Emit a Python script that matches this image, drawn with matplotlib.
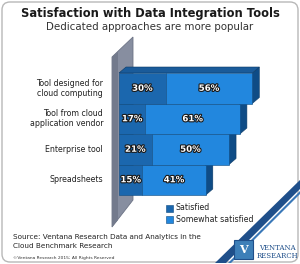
import matplotlib
matplotlib.use("Agg")
import matplotlib.pyplot as plt
import matplotlib.patheffects as pe
from matplotlib.patches import Polygon, FancyBboxPatch, Rectangle

categories = ["Tool designed for\ncloud computing", "Tool from cloud\napplication vendor",
              "Enterprise tool", "Spreadsheets"]
satisfied = [30, 17, 21, 15]
somewhat = [56, 61, 50, 41]
series_names = ["Satisfied", "Somewhat satisfied"]

title = "Satisfaction with Data Integration Tools"
subtitle = "Dedicated approaches are more popular"
source = "Source: Ventana Research Data and Analytics in the\nCloud Benchmark Research"
copyright_txt = "©Ventana Research 2015; All Rights Reserved"

c_sat = "#1b67ae"
c_some = "#2287de"
c_side = "#0f4c86"
c_top = "#1a5b9a"

W, H = 300, 264
fig = plt.figure(figsize=(W / 100, H / 100), dpi=100)
bg = fig.add_axes([0, 0, 1, 1])
bg.set_xlim(0, W)
bg.set_ylim(H, 0)
bg.axis("off")

# rounded frame
bg.add_patch(FancyBboxPatch((2, 2), W - 4, H - 4, boxstyle="round,pad=0,rounding_size=8",
                            fc="white", ec="#b8b8b8", lw=1.0))
# blue swoosh bottom-right
bg.add_patch(Polygon([(300, 180), (300, 189), (226, 263), (215, 263)], closed=True,
                     fc="#1f4f8a", ec="none", zorder=2))
bg.add_patch(Polygon([(300, 191), (300, 194), (231, 263), (228, 263)], closed=True,
                     fc="#3a78b8", ec="none", zorder=2))
# logo
bg.add_patch(Rectangle((234, 240), 19, 19, fc="#3d7fb8", ec="#1f4f8a", lw=0.8, zorder=3))
bg.text(243.5, 249.5, "V", ha="center", va="center", color="white", fontsize=8,
        fontweight="bold", family="DejaVu Serif", zorder=4)
bg.text(277, 248, "VENTANA", ha="center", va="center", color="#1f4f8a", fontsize=5.0,
        family="DejaVu Serif", zorder=4)
bg.text(277, 256, "RESEARCH", ha="center", va="center", color="#1f4f8a", fontsize=5.0,
        family="DejaVu Serif", zorder=4)

# wall
bg.add_patch(Polygon([(112, 57), (133, 37), (133, 200), (112, 227)], closed=True,
                     fc="#878ea0", ec="#6c7385", lw=0.6))
bg.add_patch(Polygon([(112, 57), (118, 52), (118, 220), (112, 227)], closed=True,
                     fc="#737a8c", ec="none"))

# titles
bg.text(150, 14, title, ha="center", va="center", fontsize=8.3, fontweight="bold",
        color="#1a1a1a", family="DejaVu Sans")
bg.text(150, 27, subtitle, ha="center", va="center", fontsize=7.4, color="#333333",
        family="DejaVu Sans")
bg.text(13, 241.5, source, ha="left", va="center", fontsize=5.2, color="#222222",
        linespacing=1.45)
bg.text(13, 258, copyright_txt, ha="left", va="center", fontsize=3.2, color="#333333")

# bar axes: 0% at x=119px, 1.55 px per %
x0_px, px_per = 119, 1.55
ax_w = 100 * px_per
y_top_px, y_bot_px = 73, 195
ax = fig.add_axes([x0_px / W, (H - y_bot_px) / H, ax_w / W, (y_bot_px - y_top_px) / H])
ax.set_xlim(0, 100)
ax.set_ylim(len(categories) - 0.5, -0.5)
ax.axis("off")

dx = 7 / px_per
dy = 6 / ((y_bot_px - y_top_px) / len(categories))
n = len(categories)
for i in reversed(range(n)):
    s, w = satisfied[i], somewhat[i]
    tot = s + w
    yt, yb = i - 0.5, i + 0.5
    # side face
    ax.add_patch(Polygon([(tot, yt), (tot + dx, yt - dy), (tot + dx, yb - dy), (tot, yb)],
                         closed=True, fc=c_side, ec="#0b3a66", lw=0.4, clip_on=False))
    if i == 0:
        ax.add_patch(Polygon([(0, yt), (dx, yt - dy), (tot + dx, yt - dy), (tot, yt)],
                             closed=True, fc=c_top, ec="#0b3a66", lw=0.4, clip_on=False))
    ax.barh(i, s, left=0, height=1.0, color=c_sat, edgecolor="#0e4a80", lw=0.4,
            clip_on=False, label=series_names[0] if i == 0 else None)
    ax.barh(i, w, left=s, height=1.0, color=c_some, edgecolor="#0e4a80", lw=0.4,
            clip_on=False, label=series_names[1] if i == 0 else None)
    for xc, v in ((s / 2, s), (s + w / 2, w)):
        ax.text(xc, i, f"{v}%", ha="center", va="center", color="white", fontsize=6.2,
                fontweight="bold",
                path_effects=[pe.withStroke(linewidth=1.6, foreground="#1a1a1a")])
    bg.text(103, y_top_px + (i + 0.5) * (y_bot_px - y_top_px) / n, categories[i],
            ha="right", va="center", fontsize=5.7, color="#222222", linespacing=1.15)

# legend
for k, (name, col) in enumerate(zip(series_names, [c_sat, c_some])):
    yy = 208 + k * 11.5
    bg.add_patch(Rectangle((166, yy - 3.5), 7, 7, fc=col, ec="#0e4a80", lw=0.4))
    bg.text(176, yy, name, ha="left", va="center", fontsize=5.7, color="#222222")

fig.savefig("out.png", dpi=100)
